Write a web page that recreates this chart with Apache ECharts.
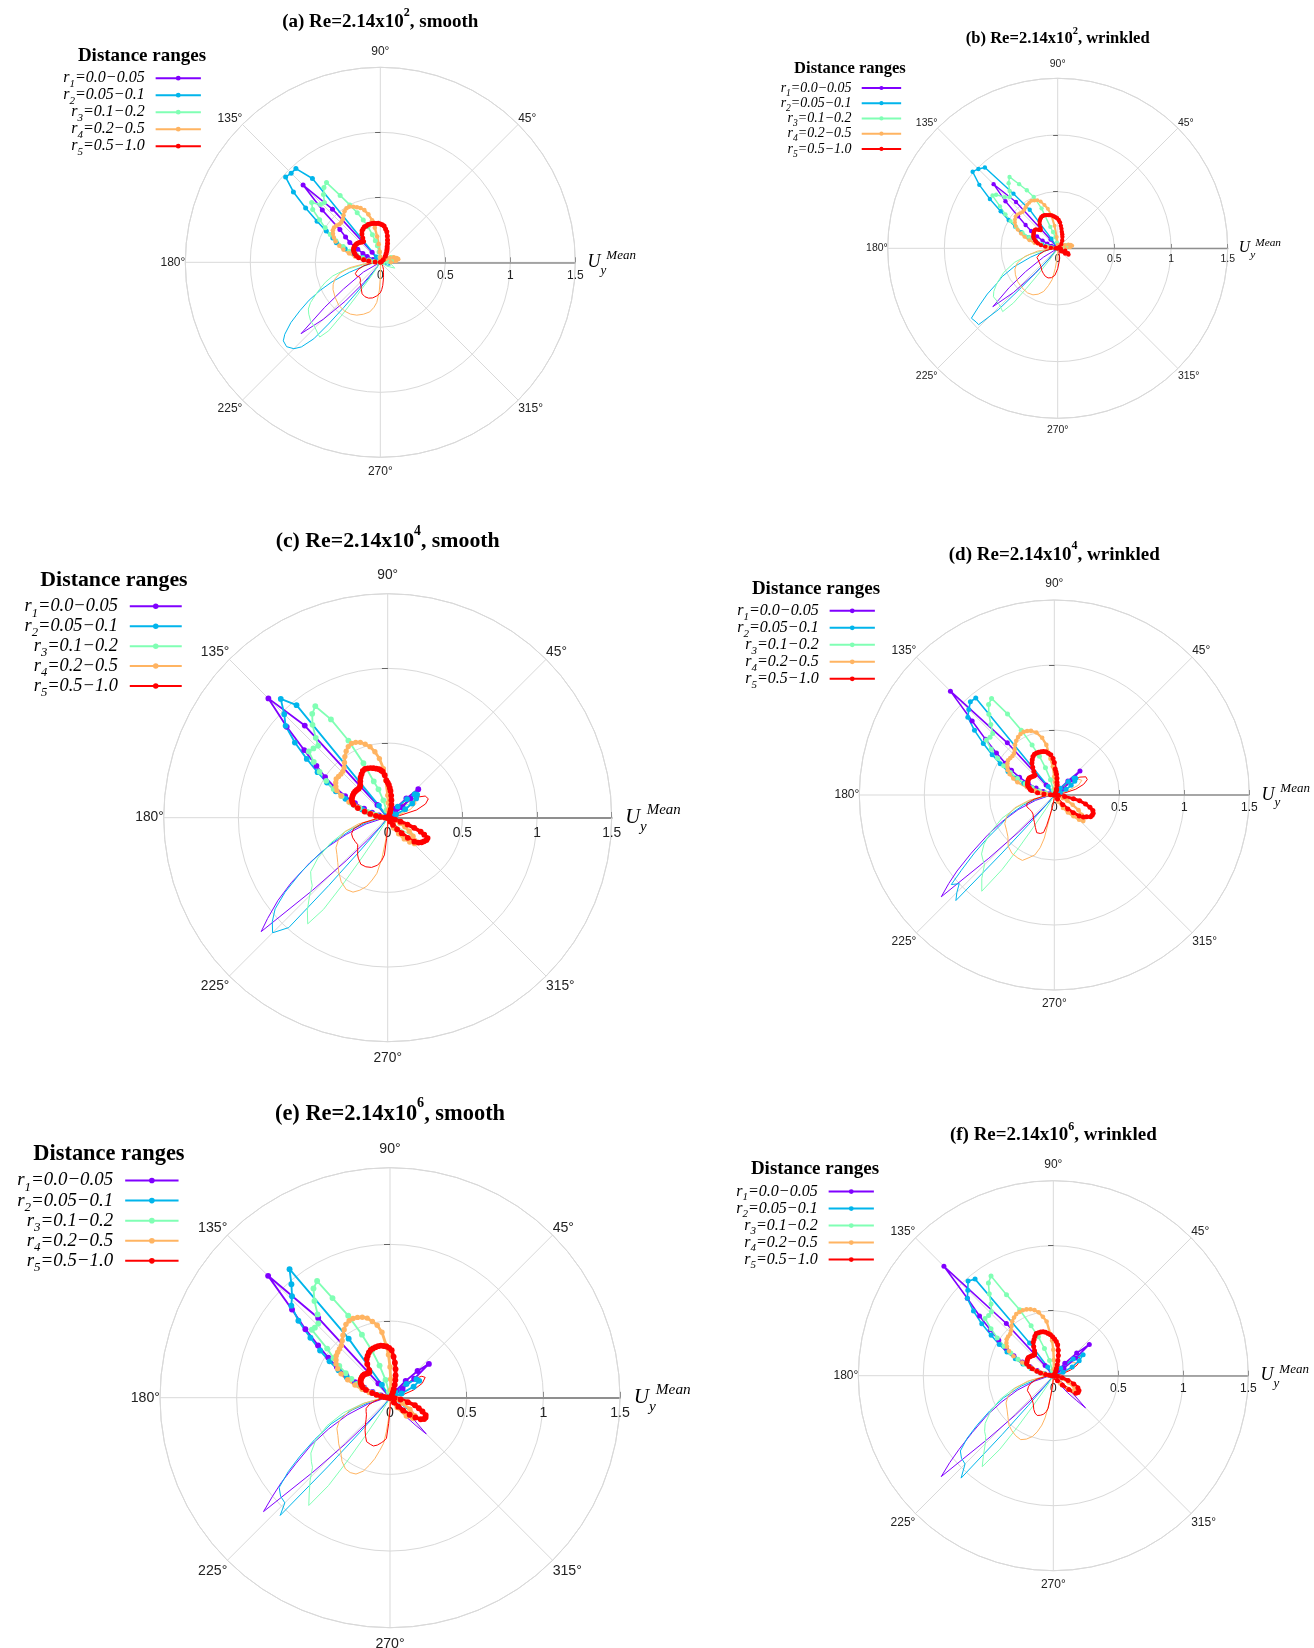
<!DOCTYPE html>
<html>
<head>
<meta charset="utf-8">
<script src="https://cdn.jsdelivr.net/npm/echarts@6/dist/echarts.min.js"></script>
<style>
  html, body { margin: 0; padding: 0; background: #fff; }
  #chart { width: 1314px; height: 1648px; }
</style>
</head>
<body>
<div id="chart"></div>
<script>
// ---- Labels ----
const panelIds = ['a', 'b', 'c', 'd', 'e', 'f'];
const panelTitles = [
  ['(a) Re=2.14x10', '2', ', smooth'],
  ['(b) Re=2.14x10', '2', ', wrinkled'],
  ['(c) Re=2.14x10', '4', ', smooth'],
  ['(d) Re=2.14x10', '4', ', wrinkled'],
  ['(e) Re=2.14x10', '6', ', smooth'],
  ['(f) Re=2.14x10', '6', ', wrinkled']
];
const legendHeading = 'Distance ranges';
const rangeSubs = ['1', '2', '3', '4', '5'];
const rangeTexts = ['=0.0\u22120.05', '=0.05\u22120.1', '=0.1\u22120.2', '=0.2\u22120.5', '=0.5\u22121.0'];
const angleTicks = [0, 45, 90, 135, 180, 225, 270, 315, 360];
const radiusTicks = [0, 0.5, 1, 1.5];

// ---- Mean velocity roses: [angle in degrees, U_y magnitude] ----
// "dots" = curves drawn with markers, "thin" = plain thin curves

// (a) Re=2.14x10^2, smooth
const a_r1_dots = [[126,0],[129,0.1],[132,0.55],[135,0.84],[138,0.6],[141,0.4],[144,0.33],[147,0.28],[150,0.2],[153,0.15],[156,0.11],[159,0.06],[162,0.03],[166,0]];
const a_r1_thin = [[204,0],[210,0.15],[216,0.35],[219,0.55],[222,0.82],[225,0.62],[228,0.4],[231,0.2],[236,0.05],[240,0]];
const a_r2_dots = [[123,0],[126,0.05],[129,0.83],[132,0.97],[135,0.97],[138,0.98],[141,0.86],[144,0.71],[147,0.58],[150,0.48],[153,0.41],[156,0.37],[159,0.29],[162,0.21],[165,0.14],[168,0.08],[171,0.04],[174,0.02],[177,0]];
const a_r2_thin = [[180,0],[186,0.05],[192,0.12],[198,0.25],[202,0.4],[205,0.51],[208,0.62],[211,0.72],[214,0.83],[217,0.92],[219,0.96],[222,0.97],[225,0.94],[227,0.89],[229,0.78],[230,0.62],[231,0.45],[232,0.3],[234,0.14],[237,0.05],[240,0],[330,0],[338,0.06],[345,0.08],[352,0.05],[359,0]];
const a_r3_dots = [[0,0.02],[6,0.06],[12,0.1],[18,0.11],[24,0.09],[30,0.05],[36,0.02],[42,0],[91,0],[94,0.04],[97,0.08],[100,0.13],[103,0.17],[106,0.22],[109,0.29],[112,0.35],[115,0.42],[118,0.5],[121,0.6],[124,0.74],[127,0.72],[130,0.68],[133,0.63],[136,0.64],[139,0.7],[142,0.66],[145,0.57],[148,0.5],[151,0.44],[154,0.38],[157,0.31],[160,0.25],[163,0.19],[166,0.14],[169,0.09],[172,0.05],[176,0.02],[180,0]];
const a_r3_thin = [[180,0],[186,0.1],[192,0.28],[196,0.38],[200,0.45],[205,0.53],[210,0.62],[213,0.66],[216,0.68],[220,0.7],[225,0.71],[229,0.73],[231,0.74],[233,0.66],[234,0.5],[235,0.3],[237,0.12],[240,0.03],[245,0],[320,0],[330,0.06],[338,0.12],[345,0.13],[352,0.08],[358,0.03],[360,0]];
const a_r4_dots = [[0,0.08],[5,0.12],[10,0.14],[15,0.13],[20,0.11],[25,0.08],[30,0.05],[36,0.02],[45,0],[82,0],[86,0.02],[90,0.04],[93,0.08],[95,0.14],[97,0.2],[99,0.27],[101,0.33],[104,0.38],[107,0.42],[110,0.445],[113,0.46],[116,0.475],[119,0.49],[122,0.49],[125,0.48],[128,0.46],[131,0.44],[134,0.43],[137,0.43],[140,0.44],[143,0.445],[146,0.44],[149,0.425],[152,0.405],[155,0.38],[158,0.34],[161,0.3],[164,0.25],[167,0.2],[170,0.13],[173,0.08],[176,0.04],[180,0]];
const a_r4_thin = [[180,0],[185,0.12],[190,0.24],[195,0.32],[200,0.37],[205,0.4],[210,0.42],[218,0.44],[226,0.46],[234,0.465],[240,0.46],[246,0.445],[252,0.42],[258,0.39],[262,0.35],[265,0.31],[268,0.22],[271,0.1],[275,0.03],[280,0]];
const a_r5_dots = [[30,0.01],[40,0.03],[50,0.06],[56,0.08],[60,0.1],[63,0.115],[66,0.13],[69,0.155],[72,0.18],[75,0.21],[78,0.24],[81,0.26],[84,0.28],[87,0.29],[90,0.295],[93,0.3],[96,0.3],[99,0.305],[102,0.305],[105,0.305],[108,0.305],[111,0.3],[114,0.3],[117,0.29],[120,0.28],[123,0.26],[126,0.23],[129,0.205],[132,0.21],[135,0.218],[138,0.225],[141,0.23],[144,0.232],[147,0.233],[150,0.233],[153,0.23],[156,0.226],[159,0.216],[162,0.205],[165,0.19],[168,0.17],[171,0.13],[174,0.09],[177,0.04],[180,0]];
const a_r5_thin = [[180,0],[186,0.07],[192,0.13],[198,0.18],[204,0.21],[210,0.21],[216,0.195],[222,0.205],[225,0.22],[228,0.22],[231,0.235],[234,0.25],[240,0.28],[246,0.29],[252,0.29],[258,0.28],[264,0.26],[270,0.235],[273,0.21],[276,0.18],[282,0.12],[288,0.08],[294,0.06],[300,0.04],[310,0.02],[320,0]];

// (b) Re=2.14x10^2, wrinkled
const b_r1_dots = [[126,0],[129,0.1],[132,0.55],[135,0.8],[138,0.62],[141,0.45],[144,0.35],[147,0.28],[150,0.21],[153,0.15],[156,0.1],[159,0.06],[162,0.03],[166,0]];
const b_r1_thin = [[206,0],[212,0.15],[216,0.35],[219,0.55],[222,0.77],[225,0.55],[228,0.3],[231,0.12],[236,0]];
const b_r2_dots = [[120,0],[123,0.1],[126,0.42],[129,0.62],[132,0.96],[135,0.99],[138,1.01],[141,0.89],[144,0.74],[147,0.6],[150,0.5],[153,0.42],[156,0.35],[159,0.27],[162,0.2],[165,0.14],[168,0.09],[171,0.05],[175,0.02],[180,0]];
const b_r2_thin = [[180,0],[186,0.05],[192,0.12],[198,0.25],[203,0.42],[207,0.55],[210,0.62],[213,0.74],[216,0.85],[219,0.98],[222,0.97],[224,0.97],[226,0.75],[227,0.5],[228,0.3],[230,0.12],[234,0.03],[238,0]];
const b_r3_dots = [[0,0.02],[6,0.06],[12,0.09],[18,0.09],[24,0.07],[30,0.04],[38,0],[94,0],[98,0.05],[102,0.1],[106,0.15],[109,0.2],[112,0.38],[115,0.5],[118,0.58],[121,0.66],[124,0.76],[127,0.72],[130,0.66],[133,0.62],[136,0.65],[139,0.72],[141,0.74],[144,0.63],[147,0.55],[150,0.48],[153,0.41],[156,0.34],[159,0.27],[162,0.21],[165,0.15],[168,0.1],[171,0.06],[175,0.02],[180,0]];
const b_r3_thin = [[180,0],[186,0.08],[192,0.25],[198,0.4],[204,0.52],[210,0.62],[214,0.68],[217,0.71],[221,0.71],[225,0.72],[229,0.74],[231,0.62],[232,0.45],[233,0.3],[235,0.12],[238,0.03],[242,0]];
const b_r4_dots = [[0,0.07],[5,0.11],[10,0.13],[15,0.12],[20,0.1],[25,0.07],[30,0.04],[36,0.02],[45,0],[86,0],[90,0.03],[95,0.1],[98,0.2],[101,0.3],[104,0.36],[107,0.4],[110,0.44],[113,0.46],[116,0.47],[119,0.48],[122,0.475],[125,0.47],[128,0.46],[131,0.45],[134,0.445],[137,0.455],[140,0.465],[143,0.465],[146,0.455],[149,0.44],[152,0.42],[155,0.39],[158,0.35],[161,0.31],[164,0.26],[167,0.21],[170,0.15],[173,0.09],[176,0.05],[180,0]];
const b_r4_thin = [[180,0],[182,0.05],[188,0.18],[194,0.3],[200,0.38],[206,0.42],[212,0.44],[220,0.46],[228,0.47],[236,0.475],[242,0.465],[247,0.44],[252,0.4],[256,0.34],[260,0.28],[263,0.18],[266,0.09],[270,0.03],[275,0]];
const b_r5_dots = [[40,0.02],[50,0.05],[60,0.08],[68,0.11],[72,0.13],[76,0.15],[79,0.175],[82,0.2],[85,0.23],[88,0.25],[91,0.265],[94,0.275],[97,0.285],[100,0.295],[103,0.3],[106,0.305],[109,0.31],[112,0.315],[115,0.315],[118,0.31],[121,0.3],[124,0.285],[127,0.265],[130,0.235],[133,0.22],[136,0.235],[139,0.255],[142,0.258],[145,0.256],[148,0.25],[151,0.245],[154,0.24],[157,0.23],[160,0.215],[163,0.2],[166,0.18],[169,0.15],[172,0.11],[175,0.06],[178,0.02],[180,0],[315,0],[320,0.04],[325,0.08],[330,0.11],[335,0.1],[342,0.07],[350,0.03],[360,0]];
const b_r5_thin = [[180,0],[186,0.06],[192,0.12],[198,0.17],[204,0.2],[210,0.2],[216,0.2],[222,0.21],[228,0.22],[234,0.24],[240,0.255],[246,0.27],[252,0.275],[258,0.265],[264,0.24],[270,0.18],[276,0.12],[282,0.07],[290,0.03],[300,0]];

// (c) Re=2.14x10^4, smooth
const c_r1_dots = [[28,0],[32,0.05],[36,0.12],[40,0.2],[43,0.28],[46,0.18],[50,0.08],[55,0.02],[60,0],[126,0],[129,0.11],[132,0.83],[135,1.13],[138,0.91],[141,0.72],[144,0.59],[147,0.5],[150,0.41],[153,0.32],[156,0.24],[159,0.17],[162,0.11],[165,0.06],[170,0.02],[174,0]];
const c_r1_thin = [[188,0],[192,0.05],[196,0.15],[202,0.3],[206,0.45],[210,0.6],[214,0.78],[217,0.92],[220,1.05],[222,1.14],[224,0.7],[226,0.4],[228,0.2],[231,0.08],[235,0.02],[240,0]];
const c_r2_dots = [[18,0],[22,0.06],[26,0.13],[30,0.19],[34,0.23],[38,0.25],[41,0.24],[44,0.18],[48,0.1],[52,0.04],[58,0],[123,0],[126,0.1],[129,0.97],[132,1.07],[135,0.98],[138,0.92],[141,0.8],[144,0.67],[147,0.56],[150,0.47],[153,0.39],[156,0.31],[159,0.24],[162,0.18],[165,0.12],[168,0.07],[172,0.03],[176,0]];
const c_r2_thin = [[182,0],[186,0.05],[192,0.13],[198,0.25],[204,0.4],[208,0.52],[212,0.68],[216,0.85],[219,0.97],[222,1.04],[225,1.09],[228,0.99],[229,0.6],[230,0.3],[232,0.1],[236,0.02],[240,0]];
const c_r3_dots = [[97,0],[100,0.05],[104,0.12],[108,0.2],[111,0.26],[114,0.4],[117,0.58],[120,0.76],[123,0.89],[126,0.86],[129,0.8],[132,0.72],[134,0.67],[137,0.68],[140,0.69],[143,0.62],[146,0.55],[149,0.48],[152,0.41],[155,0.34],[158,0.27],[161,0.2],[164,0.14],[167,0.09],[171,0.04],[176,0]];
const c_r3_thin = [[5,0],[15,0.08],[25,0.15],[32,0.17],[38,0.13],[45,0.05],[52,0],[182,0],[186,0.06],[192,0.16],[198,0.3],[204,0.42],[210,0.54],[215,0.63],[219,0.66],[222,0.68],[225,0.74],[229,0.82],[233,0.89],[235,0.75],[236,0.55],[237,0.35],[239,0.15],[242,0.04],[246,0],[312,0],[318,0.1],[322,0.18],[325,0.22],[328,0.2],[332,0.12],[338,0.04],[345,0]];
const c_r4_dots = [[82,0],[85,0.05],[88,0.1],[90,0.15],[93,0.25],[95,0.33],[98,0.4],[101,0.45],[104,0.49],[107,0.515],[110,0.537],[113,0.548],[116,0.553],[119,0.545],[122,0.525],[125,0.5],[128,0.47],[131,0.445],[134,0.432],[137,0.428],[140,0.43],[143,0.432],[146,0.42],[149,0.405],[152,0.385],[155,0.345],[158,0.28],[161,0.22],[164,0.16],[167,0.11],[170,0.07],[174,0.03],[178,0.01],[180,0],[296,0],[300,0.08],[304,0.13],[308,0.18],[312,0.22],[316,0.25],[320,0.24],[324,0.21],[328,0.17],[332,0.13],[336,0.09],[340,0.05],[346,0.02],[352,0]];
const c_r4_thin = [[8,0],[14,0.08],[20,0.16],[26,0.21],[32,0.22],[38,0.17],[44,0.09],[50,0.03],[56,0],[180,0],[186,0.08],[192,0.2],[198,0.3],[204,0.36],[210,0.4],[216,0.42],[222,0.45],[228,0.49],[234,0.53],[240,0.555],[245,0.55],[249,0.52],[253,0.48],[256,0.43],[259,0.38],[262,0.27],[265,0.15],[268,0.06],[272,0.02],[278,0]];
const c_r5_dots = [[60,0.02],[66,0.04],[70,0.06],[74,0.09],[78,0.12],[81,0.15],[84,0.18],[86,0.2],[88,0.22],[90,0.235],[92,0.25],[94,0.285],[96,0.31],[98,0.32],[100,0.33],[103,0.337],[106,0.345],[109,0.352],[112,0.357],[115,0.36],[118,0.355],[121,0.34],[124,0.325],[127,0.305],[130,0.285],[132,0.278],[135,0.275],[138,0.278],[141,0.28],[144,0.28],[147,0.278],[150,0.275],[153,0.27],[156,0.26],[159,0.245],[162,0.21],[165,0.16],[168,0.12],[171,0.08],[174,0.05],[177,0.02],[180,0],[300,0],[303,0.03],[306,0.06],[309,0.1],[312,0.14],[315,0.19],[318,0.24],[321,0.265],[324,0.28],[327,0.29],[330,0.3],[333,0.3],[335,0.27],[337,0.24],[339,0.19],[341,0.14],[343,0.09],[346,0.05],[350,0.02],[355,0]];
const c_r5_thin = [[5,0],[10,0.08],[15,0.2],[20,0.27],[25,0.3],[30,0.29],[35,0.24],[40,0.16],[45,0.08],[50,0.03],[55,0],[180,0],[186,0.08],[192,0.17],[198,0.24],[204,0.265],[210,0.27],[216,0.27],[222,0.27],[225,0.285],[228,0.3],[231,0.32],[234,0.335],[240,0.36],[246,0.36],[252,0.35],[258,0.325],[262,0.29],[265,0.25],[267,0.14],[270,0.06],[276,0.02],[285,0]];

// (d) Re=2.14x10^4, wrinkled
const d_r1_dots = [[30,0],[35,0.08],[40,0.18],[43,0.27],[46,0.15],[50,0.06],[55,0],[126,0],[129,0.1],[132,0.54],[135,1.13],[138,0.85],[141,0.68],[144,0.55],[147,0.45],[150,0.38],[153,0.3],[156,0.22],[159,0.15],[162,0.09],[166,0.04],[170,0]];
const d_r1_thin = [[188,0],[190,0.05],[196,0.15],[202,0.3],[207,0.45],[211,0.6],[215,0.78],[218,0.95],[220,1.06],[222,1.17],[224,0.7],[226,0.4],[228,0.2],[231,0.08],[236,0.02],[240,0]];
const d_r2_dots = [[18,0],[22,0.05],[26,0.1],[30,0.15],[34,0.19],[38,0.21],[41,0.2],[44,0.15],[48,0.07],[52,0.02],[56,0],[123,0],[126,0.08],[129,0.96],[132,0.965],[135,0.93],[138,0.895],[141,0.79],[144,0.675],[147,0.57],[150,0.48],[153,0.4],[156,0.32],[159,0.25],[162,0.18],[165,0.12],[168,0.07],[172,0.03],[176,0]];
const d_r2_thin = [[182,0],[186,0.05],[192,0.13],[198,0.25],[204,0.38],[209,0.47],[213,0.62],[216,0.76],[219,0.92],[221,1.05],[223,1.0],[225,1.06],[227,1.11],[228,0.6],[229,0.3],[231,0.1],[235,0.02],[240,0]];
const d_r3_dots = [[97,0],[100,0.04],[104,0.12],[108,0.22],[111,0.32],[114,0.42],[117,0.56],[120,0.72],[123,0.886],[126,0.86],[129,0.8],[132,0.73],[135,0.67],[138,0.665],[141,0.673],[144,0.6],[147,0.52],[150,0.45],[153,0.38],[156,0.31],[159,0.24],[162,0.18],[165,0.12],[168,0.07],[172,0.03],[176,0]];
const d_r3_thin = [[5,0],[15,0.07],[25,0.13],[32,0.15],[38,0.12],[45,0.05],[52,0],[182,0],[186,0.06],[192,0.18],[198,0.3],[204,0.44],[210,0.56],[215,0.66],[219,0.72],[222,0.74],[225,0.76],[229,0.85],[233,0.927],[235,0.7],[236,0.5],[237,0.3],[239,0.12],[242,0.03],[246,0]];
const d_r4_dots = [[82,0],[85,0.05],[88,0.1],[90,0.14],[93,0.22],[96,0.28],[99,0.39],[102,0.45],[106,0.5],[110,0.525],[113,0.535],[116,0.54],[119,0.536],[122,0.525],[125,0.51],[128,0.49],[131,0.465],[134,0.445],[137,0.44],[140,0.442],[143,0.445],[146,0.435],[149,0.42],[152,0.405],[155,0.38],[158,0.34],[161,0.3],[164,0.22],[167,0.15],[170,0.1],[173,0.06],[177,0.02],[180,0],[295,0],[300,0.06],[304,0.12],[308,0.17],[312,0.22],[315,0.27],[318,0.3],[321,0.29],[324,0.26],[328,0.22],[332,0.16],[336,0.11],[340,0.07],[346,0.03],[355,0]];
const d_r4_thin = [[10,0],[16,0.1],[22,0.2],[28,0.24],[34,0.22],[40,0.14],[46,0.06],[52,0],[180,0],[186,0.08],[192,0.2],[198,0.32],[204,0.4],[210,0.44],[216,0.455],[222,0.48],[228,0.53],[234,0.555],[240,0.56],[244,0.56],[248,0.52],[252,0.485],[255,0.42],[257,0.34],[258,0.2],[261,0.1],[265,0.04],[270,0]];
const d_r5_dots = [[60,0.02],[66,0.04],[70,0.05],[74,0.08],[78,0.1],[81,0.13],[84,0.16],[86,0.18],[88,0.2],[90,0.25],[92,0.28],[95,0.31],[98,0.325],[101,0.338],[104,0.345],[107,0.348],[110,0.35],[113,0.35],[116,0.348],[119,0.338],[122,0.32],[125,0.3],[128,0.27],[131,0.24],[134,0.214],[137,0.215],[140,0.22],[143,0.228],[146,0.233],[149,0.233],[152,0.23],[155,0.226],[158,0.222],[161,0.215],[164,0.2],[167,0.19],[169,0.178],[172,0.13],[175,0.08],[178,0.03],[180,0],[305,0],[308,0.04],[311,0.1],[314,0.15],[317,0.2],[320,0.25],[323,0.28],[326,0.3],[329,0.325],[332,0.33],[335,0.33],[338,0.32],[341,0.29],[344,0.25],[347,0.2],[349,0.15],[352,0.08],[356,0.03],[360,0]];
const d_r5_thin = [[5,0],[10,0.07],[15,0.17],[20,0.24],[25,0.28],[30,0.28],[35,0.24],[40,0.17],[45,0.09],[50,0.03],[55,0],[180,0],[186,0.08],[192,0.16],[197,0.22],[203,0.23],[210,0.22],[216,0.215],[222,0.22],[228,0.24],[234,0.26],[240,0.29],[245,0.32],[250,0.315],[254,0.3],[256,0.24],[258,0.16],[262,0.08],[268,0.03],[275,0]];

// (e) Re=2.14x10^6, smooth
const e_r1_dots = [[30,0],[35,0.1],[38,0.2],[41,0.336],[44,0.25],[47,0.15],[50,0.06],[55,0],[126,0],[129,0.12],[132,0.7],[135,1.124],[138,0.86],[141,0.71],[144,0.58],[147,0.48],[150,0.4],[153,0.32],[156,0.25],[159,0.18],[162,0.12],[166,0.06],[170,0.02],[174,0]];
const e_r1_thin = [[188,0],[190,0.05],[196,0.15],[202,0.3],[207,0.45],[211,0.6],[215,0.75],[218,0.9],[220,1.0],[222,1.11],[224,0.7],[226,0.42],[228,0.22],[231,0.08],[236,0.02],[240,0],[300,0],[306,0.08],[310,0.16],[313,0.25],[315,0.334],[318,0.2],[322,0.1],[328,0.03],[335,0]];
const e_r2_dots = [[15,0],[20,0.08],[25,0.17],[30,0.22],[35,0.21],[40,0.14],[45,0.05],[50,0],[119,0],[122,0.1],[125,0.47],[128,1.064],[131,0.98],[134,0.92],[137,0.88],[140,0.78],[143,0.65],[146,0.55],[149,0.46],[152,0.38],[155,0.31],[158,0.24],[161,0.18],[164,0.12],[168,0.07],[172,0.03],[176,0]];
const e_r2_thin = [[182,0],[186,0.05],[192,0.13],[198,0.26],[204,0.42],[209,0.56],[213,0.7],[216,0.82],[219,0.93],[222,0.96],[225,0.97],[227,1.05],[228,0.6],[229,0.3],[231,0.1],[235,0.02],[240,0],[305,0],[312,0.08],[318,0.18],[322,0.22],[326,0.15],[332,0.06],[340,0]];
const e_r3_dots = [[97,0],[100,0.04],[104,0.12],[108,0.22],[111,0.33],[114,0.45],[117,0.6],[120,0.75],[122,0.897],[125,0.87],[128,0.8],[131,0.72],[134,0.673],[137,0.67],[139,0.675],[142,0.52],[145,0.45],[148,0.39],[151,0.33],[154,0.28],[157,0.23],[160,0.18],[164,0.12],[168,0.07],[172,0.03],[176,0]];
const e_r3_thin = [[182,0],[186,0.06],[192,0.18],[198,0.32],[204,0.45],[210,0.56],[215,0.63],[219,0.66],[222,0.68],[226,0.75],[230,0.82],[233,0.88],[235,0.7],[236,0.5],[237,0.3],[239,0.12],[242,0.03],[246,0]];
const e_r4_dots = [[82,0],[85,0.05],[88,0.12],[90,0.2],[92,0.28],[94,0.34],[97,0.43],[100,0.48],[103,0.51],[106,0.54],[109,0.555],[112,0.565],[115,0.57],[118,0.568],[121,0.558],[124,0.535],[127,0.51],[130,0.485],[133,0.465],[136,0.458],[139,0.452],[142,0.445],[145,0.43],[148,0.415],[151,0.39],[154,0.355],[157,0.3],[160,0.243],[163,0.19],[166,0.14],[169,0.09],[173,0.04],[177,0.01],[180,0],[300,0],[306,0.08],[312,0.16],[318,0.2],[324,0.2],[330,0.15],[336,0.09],[342,0.04],[350,0]];
const e_r4_thin = [[180,0],[186,0.07],[192,0.17],[198,0.28],[204,0.36],[210,0.4],[216,0.42],[222,0.45],[228,0.48],[233,0.52],[238,0.548],[242,0.553],[246,0.545],[250,0.51],[253,0.46],[256,0.41],[259,0.35],[262,0.3],[264,0.22],[266,0.14],[268,0.07],[272,0.02],[278,0]];
const e_r5_dots = [[55,0.02],[62,0.04],[66,0.06],[70,0.09],[73,0.12],[76,0.15],[79,0.19],[82,0.23],[85,0.268],[88,0.31],[91,0.325],[94,0.335],[97,0.34],[100,0.345],[103,0.345],[106,0.343],[109,0.34],[112,0.335],[115,0.325],[118,0.31],[121,0.295],[124,0.265],[127,0.225],[129,0.214],[132,0.215],[135,0.22],[138,0.226],[141,0.228],[144,0.227],[147,0.225],[150,0.222],[153,0.215],[156,0.205],[159,0.19],[162,0.165],[165,0.12],[168,0.09],[171,0.06],[174,0.04],[177,0.02],[180,0],[305,0],[310,0.04],[313,0.08],[316,0.12],[319,0.17],[322,0.21],[325,0.245],[328,0.262],[331,0.265],[334,0.259],[337,0.23],[340,0.2],[343,0.17],[346,0.12],[350,0.07],[355,0.03],[360,0]];
const e_r5_thin = [[5,0],[12,0.08],[18,0.16],[24,0.23],[30,0.265],[34,0.25],[38,0.2],[43,0.12],[48,0.05],[55,0],[180,0],[186,0.05],[192,0.1],[198,0.14],[204,0.17],[210,0.18],[216,0.19],[222,0.21],[228,0.24],[233,0.27],[238,0.3],[242,0.325],[247,0.33],[251,0.333],[255,0.32],[259,0.3],[262,0.285],[265,0.266],[267,0.17],[270,0.08],[275,0.03],[280,0]];

// (f) Re=2.14x10^6, wrinkled
const f_r1_dots = [[30,0],[35,0.1],[38,0.22],[41,0.367],[44,0.25],[47,0.13],[50,0.05],[55,0],[126,0],[129,0.1],[132,0.54],[135,1.19],[138,0.89],[141,0.73],[144,0.6],[147,0.5],[150,0.42],[153,0.34],[156,0.26],[159,0.19],[162,0.13],[166,0.07],[170,0.03],[174,0]];
const f_r1_thin = [[188,0],[190,0.05],[196,0.15],[202,0.3],[207,0.45],[211,0.6],[215,0.76],[218,0.92],[220,1.04],[222,1.16],[224,0.7],[226,0.42],[228,0.22],[231,0.08],[236,0.02],[240,0],[300,0],[306,0.08],[310,0.17],[313,0.26],[315,0.35],[318,0.2],[322,0.1],[328,0.03],[335,0]];
const f_r2_dots = [[15,0],[20,0.08],[25,0.16],[30,0.23],[35,0.28],[40,0.2],[45,0.08],[50,0],[120,0],[123,0.08],[126,0.31],[129,0.956],[132,0.98],[135,0.93],[138,0.89],[141,0.79],[144,0.68],[147,0.57],[150,0.48],[153,0.4],[156,0.32],[159,0.25],[162,0.18],[165,0.12],[168,0.07],[172,0.03],[176,0]];
const f_r2_thin = [[182,0],[186,0.05],[192,0.13],[198,0.26],[204,0.42],[209,0.56],[213,0.7],[216,0.82],[219,0.92],[222,0.95],[225,0.96],[228,1.06],[229,0.6],[230,0.3],[232,0.1],[236,0.02],[240,0]];
const f_r3_dots = [[97,0],[100,0.04],[104,0.12],[108,0.22],[111,0.32],[114,0.42],[117,0.57],[120,0.72],[122,0.904],[125,0.87],[128,0.8],[131,0.73],[134,0.685],[137,0.68],[140,0.686],[143,0.6],[146,0.52],[149,0.44],[152,0.37],[155,0.3],[158,0.24],[161,0.18],[164,0.12],[168,0.07],[172,0.03],[176,0]];
const f_r3_thin = [[182,0],[186,0.06],[192,0.18],[198,0.32],[204,0.45],[210,0.56],[215,0.64],[219,0.68],[222,0.7],[225,0.74],[229,0.82],[232,0.888],[234,0.7],[235,0.5],[236,0.3],[238,0.12],[241,0.03],[245,0]];
const f_r4_dots = [[82,0],[85,0.05],[88,0.12],[90,0.2],[92,0.27],[94,0.32],[97,0.42],[100,0.46],[103,0.5],[106,0.525],[109,0.54],[112,0.55],[115,0.555],[118,0.555],[121,0.553],[124,0.54],[127,0.525],[130,0.5],[133,0.475],[136,0.462],[139,0.46],[142,0.455],[145,0.44],[148,0.42],[151,0.39],[154,0.34],[157,0.26],[160,0.2],[164,0.14],[168,0.08],[172,0.04],[176,0.01],[180,0],[305,0],[312,0.08],[318,0.15],[324,0.2],[330,0.19],[336,0.13],[342,0.07],[350,0.02],[355,0]];
const f_r4_thin = [[10,0],[18,0.1],[24,0.17],[30,0.2],[36,0.17],[42,0.09],[50,0.02],[55,0],[180,0],[186,0.08],[192,0.2],[198,0.31],[204,0.38],[210,0.42],[216,0.44],[222,0.47],[228,0.51],[233,0.53],[238,0.545],[243,0.552],[247,0.53],[251,0.495],[254,0.45],[257,0.39],[259,0.33],[261,0.23],[263,0.14],[266,0.06],[270,0.02],[275,0]];
const f_r5_dots = [[55,0.02],[62,0.04],[66,0.06],[70,0.09],[73,0.12],[76,0.16],[79,0.2],[82,0.24],[85,0.265],[88,0.282],[91,0.3],[94,0.315],[97,0.328],[100,0.34],[103,0.347],[106,0.35],[109,0.35],[112,0.35],[115,0.335],[118,0.315],[121,0.3],[124,0.27],[127,0.24],[130,0.222],[132,0.216],[135,0.22],[138,0.226],[141,0.232],[144,0.237],[147,0.236],[150,0.232],[153,0.228],[156,0.225],[159,0.2],[162,0.17],[165,0.13],[168,0.1],[171,0.06],[174,0.03],[177,0.01],[180,0],[305,0],[310,0.05],[314,0.1],[318,0.16],[322,0.22],[326,0.23],[330,0.228],[334,0.21],[338,0.17],[342,0.12],[347,0.07],[352,0.03],[358,0]];
const f_r5_thin = [[5,0],[12,0.07],[18,0.14],[24,0.2],[30,0.24],[35,0.245],[40,0.2],[45,0.12],[50,0.05],[55,0],[180,0],[186,0.06],[192,0.13],[198,0.18],[204,0.21],[210,0.23],[216,0.23],[222,0.235],[228,0.245],[234,0.263],[240,0.3],[244,0.32],[248,0.33],[252,0.32],[256,0.305],[259,0.28],[261,0.254],[263,0.15],[266,0.07],[270,0.02],[278,0]];

// Lookup tables built from the arrays above
const dotCurves = {
  a: [a_r1_dots, a_r2_dots, a_r3_dots, a_r4_dots, a_r5_dots],
  b: [b_r1_dots, b_r2_dots, b_r3_dots, b_r4_dots, b_r5_dots],
  c: [c_r1_dots, c_r2_dots, c_r3_dots, c_r4_dots, c_r5_dots],
  d: [d_r1_dots, d_r2_dots, d_r3_dots, d_r4_dots, d_r5_dots],
  e: [e_r1_dots, e_r2_dots, e_r3_dots, e_r4_dots, e_r5_dots],
  f: [f_r1_dots, f_r2_dots, f_r3_dots, f_r4_dots, f_r5_dots]
};
const thinCurves = {
  a: [a_r1_thin, a_r2_thin, a_r3_thin, a_r4_thin, a_r5_thin],
  b: [b_r1_thin, b_r2_thin, b_r3_thin, b_r4_thin, b_r5_thin],
  c: [c_r1_thin, c_r2_thin, c_r3_thin, c_r4_thin, c_r5_thin],
  d: [d_r1_thin, d_r2_thin, d_r3_thin, d_r4_thin, d_r5_thin],
  e: [e_r1_thin, e_r2_thin, e_r3_thin, e_r4_thin, e_r5_thin],
  f: [f_r1_thin, f_r2_thin, f_r3_thin, f_r4_thin, f_r5_thin]
};

// ---- Layout and styling ----
const panelLayout = [
  { cx: 380.3, cy: 262.3, R: 195 },
  { cx: 1057.7, cy: 248.3, R: 170 },
  { cx: 387.7, cy: 817.7, R: 224 },
  { cx: 1054.3, cy: 795, R: 195 },
  { cx: 390, cy: 1397.7, R: 230 },
  { cx: 1053.3, cy: 1375.7, R: 195 }
];
const rangeColors = ['#8000ff', '#01b5eb', '#80ffb4', '#ffb462', '#ff0000'];
const dotLineWidths = [1.6, 1.6, 1.6, 2.4, 3.2];
const dotSizes = [5, 5, 5, 4.6, 5];
const SERIF = '"Liberation Serif", "Times New Roman", serif';
const SANS = '"Liberation Sans", Arial, sans-serif';
const GRID = '#d9d9d9';

const option = {
  backgroundColor: '#ffffff',
  animation: false,
  polar: [], angleAxis: [], radiusAxis: [], legend: [], series: [],
  graphic: { elements: [] }
};

panelIds.forEach((id, i) => {
  const L = panelLayout[i];
  const k = L.R / 195;
  const angleFont = { fontFamily: SANS, fontSize: 12 * k, color: '#222' };

  // main polar frame
  option.polar.push({ center: [L.cx, L.cy], radius: L.R });
  option.angleAxis.push({
    polarIndex: i, type: 'value', min: angleTicks[0], max: angleTicks[angleTicks.length - 1],
    interval: 45, startAngle: 0, clockwise: false,
    axisLine: { show: true, lineStyle: { color: GRID, width: 1 } },
    axisTick: { show: false },
    axisLabel: {
      show: true, margin: 0, color: '#222', fontFamily: SANS, fontSize: 12 * k,
      formatter: v => {
        if (v === 0 || v === 360) return '';
        let style = 'n';
        if (v === 90) style = 'up';
        else if (v === 270) style = 'dn';
        else if (v === 225 || v === 315) style = 'lo';
        return '{' + style + '|' + v + '\u00b0}';
      },
      rich: {
        n: Object.assign({}, angleFont),
        up: Object.assign({ padding: [0, 0, 10 * k, 0] }, angleFont),
        dn: Object.assign({ padding: [8 * k, 0, 0, 0] }, angleFont),
        lo: Object.assign({ padding: [3 * k, 0, 0, 0] }, angleFont)
      }
    },
    splitLine: { show: true, lineStyle: { color: GRID, width: 1 } }
  });
  option.radiusAxis.push({
    polarIndex: i, type: 'value', min: radiusTicks[0], max: radiusTicks[radiusTicks.length - 1], interval: 0.5,
    axisLine: { show: true, lineStyle: { color: '#8f8f8f', width: 1.6 * k } },
    axisTick: { show: true, inside: false, length: 5 * k, lineStyle: { color: '#8f8f8f', width: 1 } },
    axisLabel: {
      show: true, showMinLabel: true, margin: -7 * k, verticalAlign: 'top',
      color: '#222', fontFamily: SANS, fontSize: 12 * k
    },
    splitLine: { show: true, lineStyle: { color: GRID, width: 1 } },
    name: '{u|U}{y|y}{m|Mean}', nameLocation: 'end', nameGap: -6 * k,
    nameTextStyle: {
      rich: {
        u: { fontFamily: SERIF, fontStyle: 'italic', fontSize: 18 * k, lineHeight: 20 * k, color: '#000' },
        y: { fontFamily: SERIF, fontStyle: 'italic', fontSize: 13 * k, lineHeight: 4 * k, padding: [16 * k, 0, 0, 0], color: '#000' },
        m: { fontFamily: SERIF, fontStyle: 'italic', fontSize: 13 * k, lineHeight: 4 * k, padding: [0, 0, 13 * k, 0], color: '#000' }
      }
    }
  });

  // series: marked curves first (they provide the legend icons), then thin curves
  for (let j = 0; j < 5; j++) {
    option.series.push({
      type: 'line', name: id + '-r' + (j + 1), coordinateSystem: 'polar', polarIndex: i,
      data: dotCurves[id][j].map(p => [p[1], p[0]]),
      symbol: 'circle', symbolSize: dotSizes[j] * k, showSymbol: true,
      lineStyle: { color: rangeColors[j], width: dotLineWidths[j] * k },
      itemStyle: { color: rangeColors[j] },
      z: 3, silent: true, animation: false
    });
  }
  for (let j = 0; j < 5; j++) {
    option.series.push({
      type: 'line', name: id + '-r' + (j + 1), coordinateSystem: 'polar', polarIndex: i,
      data: thinCurves[id][j].map(p => [p[1], p[0]]),
      symbol: 'none', showSymbol: false,
      lineStyle: { color: rangeColors[j], width: 1 },
      itemStyle: { color: rangeColors[j] },
      z: 2, silent: true, animation: false
    });
  }

  // legend for the five ranges
  option.legend.push({
    data: rangeSubs.map((s, j) => id + '-r' + (j + 1)),
    orient: 'vertical', align: 'right', selectedMode: false, padding: 0,
    right: 1314 - (L.cx - 0.915 * L.R),
    top: L.cy - 0.952 * L.R - 10 * k,
    itemWidth: 0.232 * L.R, itemHeight: 6 * k, itemGap: -6 * k,
    formatter: name => {
      const j = Number(name.slice(name.indexOf('-r') + 2)) - 1;
      return '{i|r}{s|' + rangeSubs[j] + '}{i|' + rangeTexts[j] + '}{g| }';
    },
    textStyle: {
      color: '#000',
      rich: {
        i: { fontFamily: SERIF, fontStyle: 'italic', fontSize: 16 * k, lineHeight: 17 * k, color: '#000' },
        s: { fontFamily: SERIF, fontStyle: 'italic', fontSize: 11 * k, lineHeight: 4 * k, padding: [12 * k, 0, 0, 0], color: '#000' },
        g: { width: 6 * k, fontSize: 6 * k, lineHeight: 4 * k }
      }
    }
  });

  // panel title
  const t = panelTitles[i];
  option.graphic.elements.push({
    type: 'text', x: L.cx, y: L.cy - 1.232 * L.R, silent: true,
    style: {
      text: '{t|' + t[0] + '}{p|' + t[1] + '}{t|' + t[2] + '}',
      align: 'center', verticalAlign: 'middle',
      rich: {
        t: { fontFamily: SERIF, fontWeight: 'bold', fontSize: 19 * k, lineHeight: 19 * k, fill: '#000' },
        p: { fontFamily: SERIF, fontWeight: 'bold', fontSize: 12 * k, lineHeight: 2, padding: [0, 0, 18 * k, 0], fill: '#000' }
      }
    }
  });
  // legend heading
  option.graphic.elements.push({
    type: 'text', x: L.cx - 1.222 * L.R, y: L.cy - 1.058 * L.R, silent: true,
    style: {
      text: legendHeading, align: 'center', verticalAlign: 'middle',
      fontFamily: SERIF, fontWeight: 'bold', fontSize: 19 * k, fill: '#000'
    }
  });
});

// short ticks across the 90-degree spoke at 0.5 and 1
panelIds.forEach((id, i) => {
  const L = panelLayout[i];
  const k = L.R / 195;
  [false, true].forEach(inside => {
    const pi = option.polar.length;
    option.polar.push({ center: [L.cx, L.cy], radius: L.R });
    option.angleAxis.push({ polarIndex: pi, type: 'value', min: 0, max: 360, startAngle: 90, clockwise: false, show: false });
    option.radiusAxis.push({
      polarIndex: pi, type: 'value', min: 0, max: 1.5, interval: 0.5, z: 5,
      axisLine: { show: false }, axisLabel: { show: false },
      splitLine: { show: false }, splitArea: { show: false },
      axisTick: { show: true, inside: inside, length: 5 * k, customValues: [0.5, 1], lineStyle: { color: '#666', width: 1 } }
    });
  });
});

const chart = echarts.init(document.getElementById('chart'), null, { renderer: 'canvas', width: 1314, height: 1648 });
chart.setOption(option);
</script>
</body>
</html>
